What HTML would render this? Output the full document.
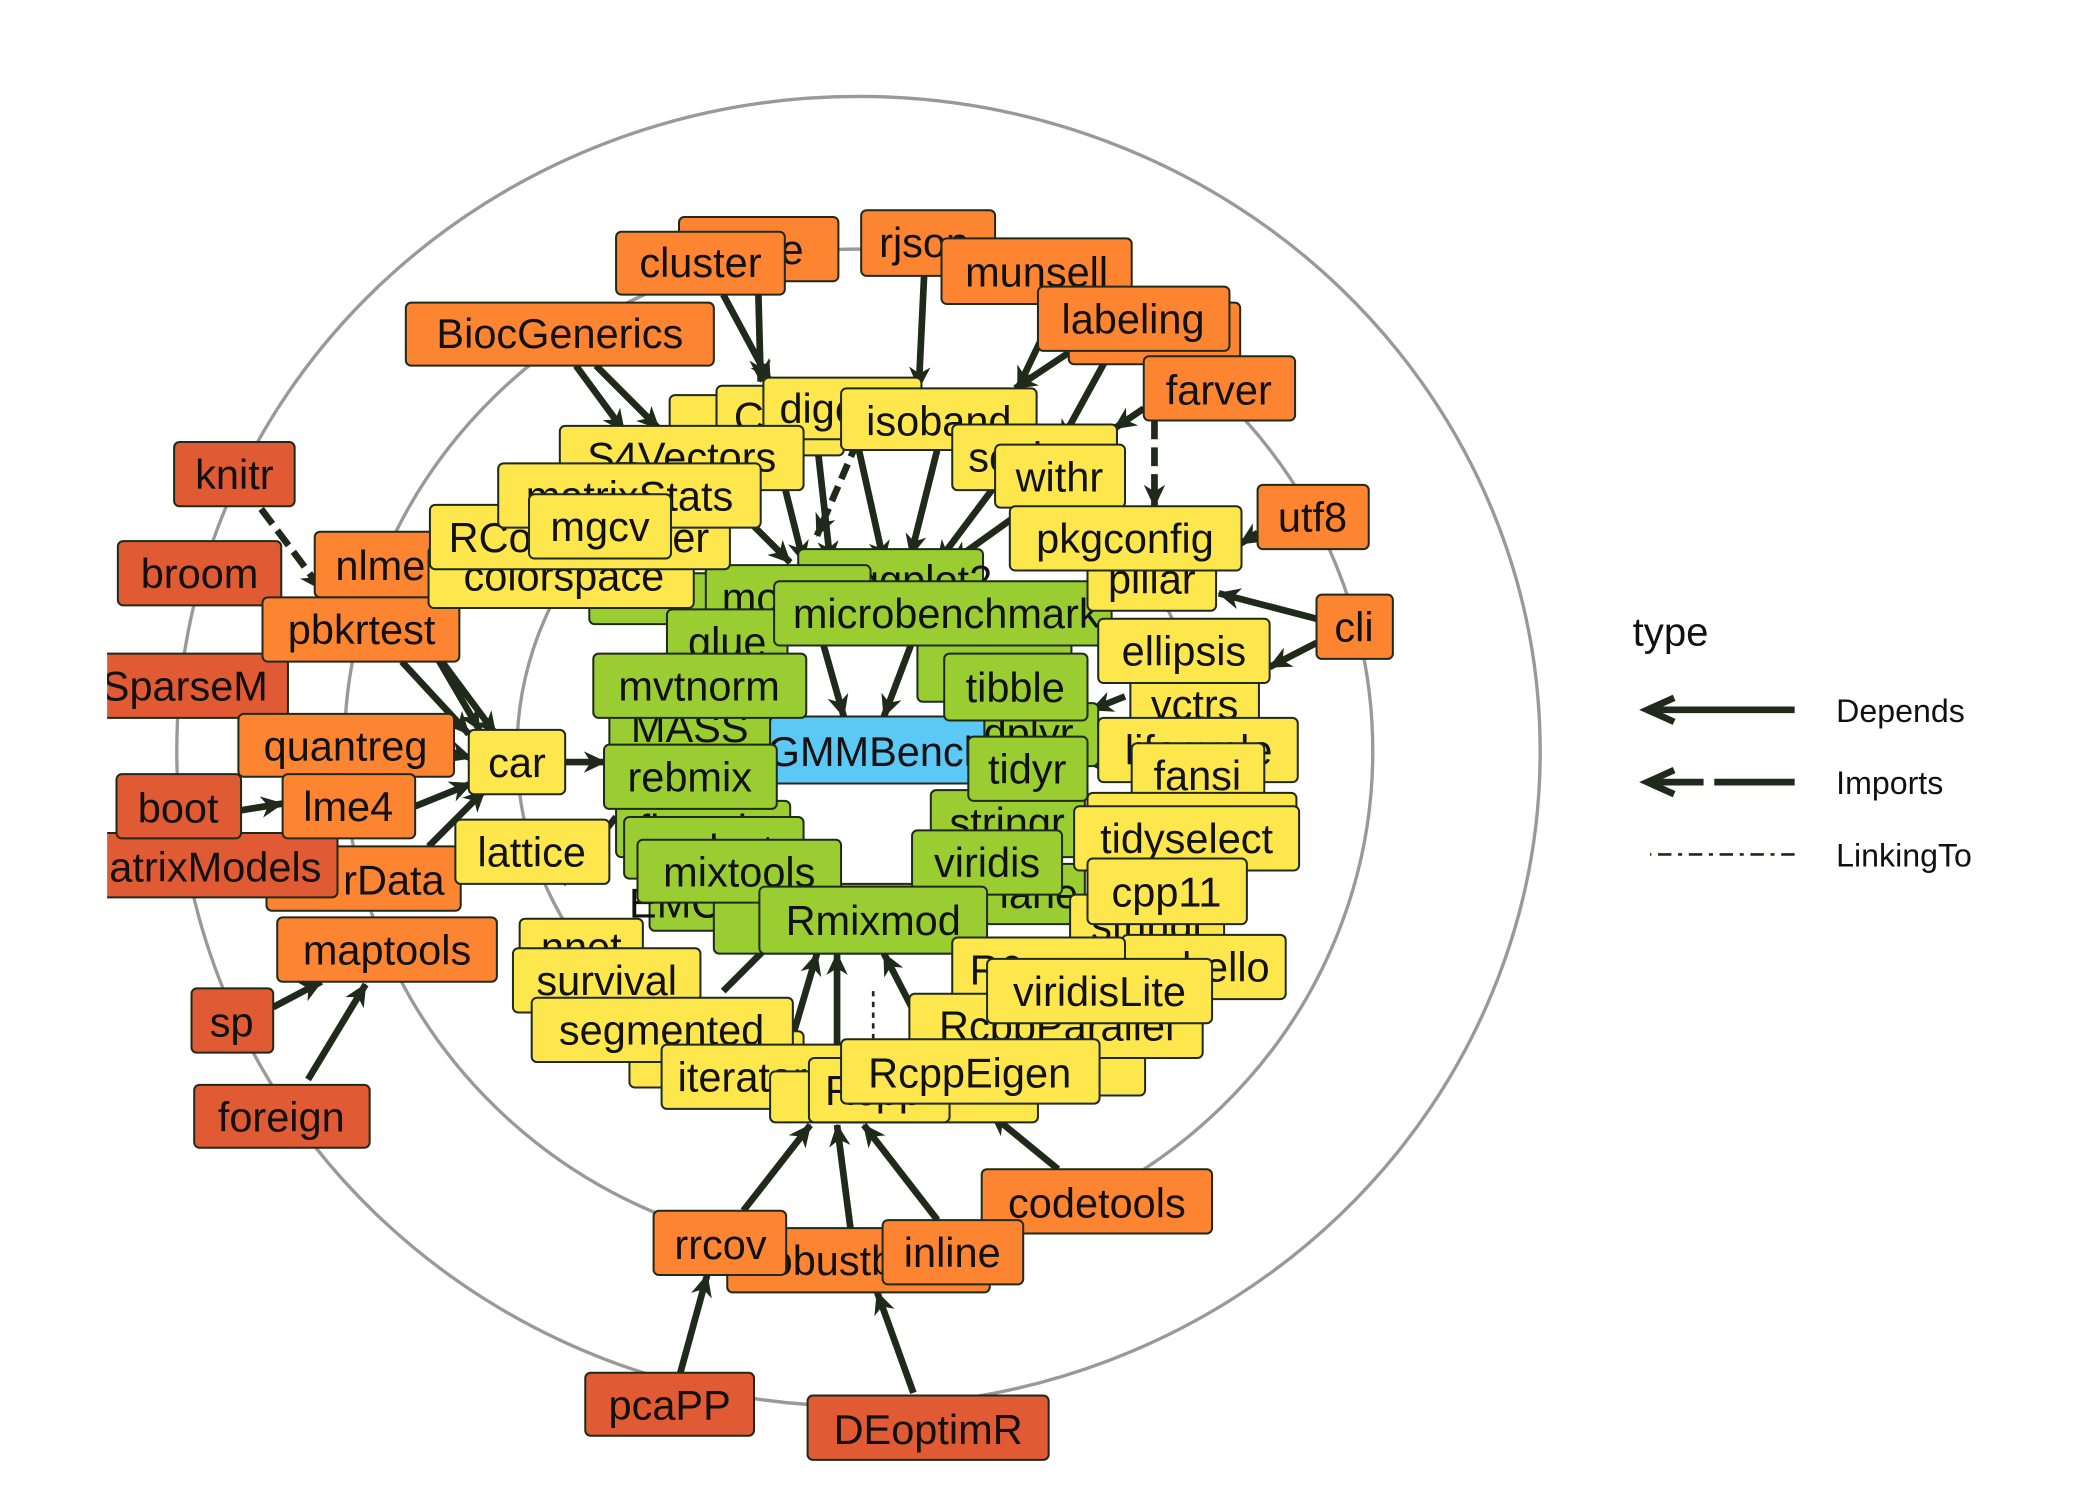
<!DOCTYPE html>
<html><head><meta charset="utf-8"><style>
html,body{margin:0;padding:0;background:#fff;}
svg{display:block}
text{font-family:"Liberation Sans",sans-serif;}
</style></head><body>
<svg width="2100" height="1500" viewBox="0 0 1568 1120" preserveAspectRatio="none" xmlns="http://www.w3.org/2000/svg">
<defs>
<marker id="a" markerUnits="userSpaceOnUse" markerWidth="18" markerHeight="16" refX="16" refY="8" orient="auto">
<path d="M0,0 L17,8 L0,16 L5,8 Z" fill="#1f2a1a"/></marker>
<clipPath id="c"><rect x="80" y="0" width="1469" height="1106"/></clipPath>
</defs>
<rect width="1568" height="1120" fill="#fff"/>
<g clip-path="url(#c)">
<g fill="none" stroke="#999" stroke-width="2.5">
<ellipse cx="641" cy="561" rx="509" ry="489"/>
<ellipse cx="641" cy="561" rx="384" ry="375"/>
<ellipse cx="641" cy="561" rx="255" ry="250"/>
</g>
<g stroke="#1f2a1a" stroke-width="5" fill="none" marker-end="url(#a)">
<line x1="540" y1="220" x2="575" y2="285"/>
<line x1="566" y1="210" x2="568" y2="285"/>
<line x1="690" y1="206" x2="686" y2="290"/>
<line x1="790" y1="227" x2="760" y2="290"/>
<line x1="800" y1="262" x2="758" y2="290"/>
<line x1="825" y1="270" x2="792" y2="330"/>
<line x1="854" y1="305" x2="832" y2="320"/>
<line x1="862" y1="314" x2="862" y2="378" stroke-dasharray="14,6"/>
<line x1="430" y1="273" x2="466" y2="322"/>
<line x1="445" y1="273" x2="492" y2="320"/>
<line x1="195" y1="380" x2="240" y2="440" stroke-dasharray="14,6"/>
<line x1="300" y1="446" x2="358" y2="545"/>
<line x1="300" y1="494" x2="350" y2="548"/>
<line x1="330" y1="494" x2="370" y2="548"/>
<line x1="339" y1="562" x2="352" y2="566"/>
<line x1="310" y1="602" x2="352" y2="585"/>
<line x1="180" y1="605" x2="211" y2="600"/>
<line x1="320" y1="632" x2="362" y2="590"/>
<line x1="204" y1="752" x2="240" y2="733"/>
<line x1="230" y1="806" x2="273" y2="735"/>
<line x1="939" y1="398" x2="926" y2="406"/>
<line x1="983" y1="462" x2="910" y2="443"/>
<line x1="983" y1="480" x2="948" y2="498"/>
<line x1="790" y1="873" x2="740" y2="832"/>
<line x1="555" y1="904" x2="605" y2="840"/>
<line x1="635" y1="917" x2="625" y2="840"/>
<line x1="700" y1="911" x2="645" y2="840"/>
<line x1="508" y1="1025" x2="528" y2="952"/>
<line x1="682" y1="1040" x2="655" y2="965"/>
<line x1="422" y1="569" x2="452" y2="569"/>
<line x1="540" y1="370" x2="590" y2="420"/>
<line x1="580" y1="340" x2="600" y2="420"/>
<line x1="610" y1="330" x2="620" y2="420"/>
<line x1="640" y1="330" x2="660" y2="420"/>
<line x1="700" y1="335" x2="680" y2="415"/>
<line x1="760" y1="340" x2="700" y2="420"/>
<line x1="640" y1="330" x2="610" y2="400" stroke-dasharray="12,6"/>
<line x1="780" y1="370" x2="710" y2="420"/>
<line x1="615" y1="482" x2="630" y2="535"/>
<line x1="680" y1="482" x2="660" y2="535"/>
<line x1="540" y1="740" x2="590" y2="690"/>
<line x1="590" y1="780" x2="610" y2="712"/>
<line x1="625" y1="790" x2="625" y2="712"/>
<line x1="690" y1="770" x2="660" y2="712"/>
<line x1="460" y1="610" x2="420" y2="660"/>
<line x1="820" y1="570" x2="812" y2="570"/>
<line x1="840" y1="520" x2="815" y2="530"/>
<line x1="800" y1="630" x2="780" y2="620"/>
<line x1="652" y1="740" x2="652" y2="790" stroke-width="2" stroke-dasharray="4,4" marker-end="none"/>
</g>
<g stroke="#1f2a1a" stroke-width="1.5">
<rect x="507" y="162" width="119" height="48" rx="4" fill="#fd8532"/>
<text x="600" y="197" font-size="31" text-anchor="end" stroke="none" fill="#111">pe</text>
<rect x="460" y="173" width="126" height="47" rx="4" fill="#fd8532"/>
<text x="523" y="207" font-size="31" text-anchor="middle" stroke="none" fill="#111">cluster</text>
<rect x="643" y="157" width="100" height="49" rx="4" fill="#fd8532"/>
<text x="690" y="192" font-size="31" text-anchor="middle" stroke="none" fill="#111">rjson</text>
<rect x="703" y="178" width="142" height="49" rx="4" fill="#fd8532"/>
<text x="774" y="214" font-size="31" text-anchor="middle" stroke="none" fill="#111">munsell</text>
<rect x="798" y="226" width="128" height="46" rx="4" fill="#fd8532"/>
<rect x="775" y="214" width="143" height="48" rx="4" fill="#fd8532"/>
<text x="846" y="249" font-size="31" text-anchor="middle" stroke="none" fill="#111">labeling</text>
<rect x="303" y="226" width="230" height="47" rx="4" fill="#fd8532"/>
<text x="418" y="260" font-size="31" text-anchor="middle" stroke="none" fill="#111">BiocGenerics</text>
<rect x="854" y="266" width="113" height="48" rx="4" fill="#fd8532"/>
<text x="910" y="302" font-size="31" text-anchor="middle" stroke="none" fill="#111">farver</text>
<rect x="130" y="330" width="90" height="48" rx="4" fill="#e05a33"/>
<text x="175" y="365" font-size="31" text-anchor="middle" stroke="none" fill="#111">knitr</text>
<rect x="939" y="362" width="83" height="48" rx="4" fill="#fd8532"/>
<text x="980" y="397" font-size="31" text-anchor="middle" stroke="none" fill="#111">utf8</text>
<rect x="88" y="404" width="122" height="48" rx="4" fill="#e05a33"/>
<text x="149" y="439" font-size="31" text-anchor="middle" stroke="none" fill="#111">broom</text>
<rect x="983" y="444" width="57" height="48" rx="4" fill="#fd8532"/>
<text x="1011" y="479" font-size="31" text-anchor="middle" stroke="none" fill="#111">cli</text>
<rect x="60" y="488" width="155" height="48" rx="4" fill="#e05a33"/>
<text x="138" y="523" font-size="31" text-anchor="middle" stroke="none" fill="#111">SparseM</text>
<rect x="235" y="397" width="98" height="49" rx="4" fill="#fd8532"/>
<text x="284" y="433" font-size="31" text-anchor="middle" stroke="none" fill="#111">nlme</text>
<rect x="196" y="446" width="147" height="48" rx="4" fill="#fd8532"/>
<text x="270" y="481" font-size="31" text-anchor="middle" stroke="none" fill="#111">pbkrtest</text>
<rect x="178" y="533" width="161" height="47" rx="4" fill="#fd8532"/>
<text x="258" y="568" font-size="31" text-anchor="middle" stroke="none" fill="#111">quantreg</text>
<rect x="199" y="632" width="145" height="48" rx="4" fill="#fd8532"/>
<text x="332" y="668" font-size="31" text-anchor="end" stroke="none" fill="#111">rData</text>
<rect x="60" y="622" width="192" height="48" rx="4" fill="#e05a33"/>
<text x="240" y="658" font-size="31" text-anchor="end" stroke="none" fill="#111">atrixModels</text>
<rect x="87" y="578" width="93" height="48" rx="4" fill="#e05a33"/>
<text x="133" y="614" font-size="31" text-anchor="middle" stroke="none" fill="#111">boot</text>
<rect x="211" y="578" width="99" height="48" rx="4" fill="#fd8532"/>
<text x="260" y="613" font-size="31" text-anchor="middle" stroke="none" fill="#111">lme4</text>
<rect x="207" y="685" width="164" height="48" rx="4" fill="#fd8532"/>
<text x="289" y="720" font-size="31" text-anchor="middle" stroke="none" fill="#111">maptools</text>
<rect x="143" y="738" width="61" height="48" rx="4" fill="#e05a33"/>
<text x="173" y="774" font-size="31" text-anchor="middle" stroke="none" fill="#111">sp</text>
<rect x="145" y="810" width="131" height="47" rx="4" fill="#e05a33"/>
<text x="210" y="845" font-size="31" text-anchor="middle" stroke="none" fill="#111">foreign</text>
<rect x="733" y="873" width="172" height="48" rx="4" fill="#fd8532"/>
<text x="819" y="909" font-size="31" text-anchor="middle" stroke="none" fill="#111">codetools</text>
<rect x="543" y="917" width="196" height="48" rx="4" fill="#fd8532"/>
<text x="641" y="952" font-size="31" text-anchor="middle" stroke="none" fill="#111">robustbase</text>
<rect x="488" y="904" width="99" height="48" rx="4" fill="#fd8532"/>
<text x="538" y="940" font-size="31" text-anchor="middle" stroke="none" fill="#111">rrcov</text>
<rect x="659" y="911" width="105" height="48" rx="4" fill="#fd8532"/>
<text x="711" y="946" font-size="31" text-anchor="middle" stroke="none" fill="#111">inline</text>
<rect x="437" y="1025" width="126" height="47" rx="4" fill="#e05a33"/>
<text x="500" y="1060" font-size="31" text-anchor="middle" stroke="none" fill="#111">pcaPP</text>
<rect x="603" y="1042" width="180" height="48" rx="4" fill="#e05a33"/>
<text x="693" y="1078" font-size="31" text-anchor="middle" stroke="none" fill="#111">DEoptimR</text>

<rect x="440" y="428" width="130" height="38" rx="4" fill="#9acd32"/>
<rect x="596" y="410" width="138" height="46" rx="4" fill="#9acd32"/>
<text x="690" y="444" font-size="31" text-anchor="middle" stroke="none" fill="#111">ggplot2</text>
<rect x="527" y="422" width="123" height="48" rx="4" fill="#9acd32"/>
<text x="588" y="457" font-size="31" text-anchor="middle" stroke="none" fill="#111">mosaic</text>
<rect x="498" y="455" width="90" height="47" rx="4" fill="#9acd32"/>
<text x="543" y="490" font-size="31" text-anchor="middle" stroke="none" fill="#111">glue</text>
<rect x="685" y="476" width="115" height="48" rx="4" fill="#9acd32"/>
<text x="742" y="511" font-size="31" text-anchor="middle" stroke="none" fill="#111">purrr</text>
<rect x="455" y="522" width="120" height="40" rx="4" fill="#9acd32"/>
<text x="515" y="554" font-size="31" text-anchor="middle" stroke="none" fill="#111">MASS</text>
<rect x="717" y="525" width="103" height="47" rx="4" fill="#9acd32"/>
<text x="768" y="558" font-size="31" text-anchor="middle" stroke="none" fill="#111">dplyr</text>
<rect x="460" y="598" width="130" height="42" rx="4" fill="#9acd32"/>
<text x="525" y="630" font-size="31" text-anchor="middle" stroke="none" fill="#111">flexmix</text>
<rect x="466" y="610" width="134" height="46" rx="4" fill="#9acd32"/>
<text x="533" y="645" font-size="31" text-anchor="middle" stroke="none" fill="#111">mclust</text>
<rect x="695" y="590" width="115" height="50" rx="4" fill="#9acd32"/>
<text x="752" y="625" font-size="31" text-anchor="middle" stroke="none" fill="#111">stringr</text>
<rect x="485" y="650" width="115" height="45" rx="4" fill="#9acd32"/>
<text x="542" y="685" font-size="31" text-anchor="middle" stroke="none" fill="#111">EMCluster</text>
<rect x="533" y="660" width="180" height="52" rx="4" fill="#9acd32"/>
<rect x="735" y="645" width="75" height="45" rx="4" fill="#9acd32"/>
<text x="805" y="678" font-size="31" text-anchor="end" stroke="none" fill="#111">lane</text>
<rect x="575" y="535" width="160" height="50" rx="4" fill="#5bc8f5"/>
<text x="655" y="572" font-size="31" text-anchor="middle" stroke="none" fill="#111">GMMBench</text>
<rect x="578" y="434" width="252" height="48" rx="4" fill="#9acd32"/>
<text x="592" y="469" font-size="31" stroke="none" fill="#111">microbenchmark</text>
<rect x="443" y="488" width="159" height="48" rx="4" fill="#9acd32"/>
<text x="522" y="523" font-size="31" text-anchor="middle" stroke="none" fill="#111">mvtnorm</text>
<rect x="705" y="488" width="107" height="50" rx="4" fill="#9acd32"/>
<text x="758" y="524" font-size="31" text-anchor="middle" stroke="none" fill="#111">tibble</text>
<rect x="723" y="550" width="89" height="48" rx="4" fill="#9acd32"/>
<text x="767" y="585" font-size="31" text-anchor="middle" stroke="none" fill="#111">tidyr</text>
<rect x="451" y="556" width="129" height="48" rx="4" fill="#9acd32"/>
<text x="515" y="591" font-size="31" text-anchor="middle" stroke="none" fill="#111">rebmix</text>
<rect x="476" y="627" width="152" height="47" rx="4" fill="#9acd32"/>
<text x="552" y="662" font-size="31" text-anchor="middle" stroke="none" fill="#111">mixtools</text>
<rect x="681" y="620" width="112" height="48" rx="4" fill="#9acd32"/>
<text x="737" y="655" font-size="31" text-anchor="middle" stroke="none" fill="#111">viridis</text>
<rect x="567" y="662" width="170" height="50" rx="4" fill="#9acd32"/>
<text x="652" y="698" font-size="31" text-anchor="middle" stroke="none" fill="#111">Rmixmod</text>

<rect x="500" y="295" width="80" height="45" rx="4" fill="#fde74c"/>
<rect x="535" y="288" width="95" height="52" rx="4" fill="#fde74c"/>
<text x="548" y="322" font-size="31" stroke="none" fill="#111">C</text>
<rect x="570" y="282" width="118" height="46" rx="4" fill="#fde74c"/>
<text x="582" y="316" font-size="31" stroke="none" fill="#111">digest</text>
<rect x="418" y="318" width="182" height="48" rx="4" fill="#fde74c"/>
<text x="509" y="352" font-size="31" text-anchor="middle" stroke="none" fill="#111">S4Vectors</text>
<rect x="628" y="290" width="146" height="46" rx="4" fill="#fde74c"/>
<text x="701" y="325" font-size="31" text-anchor="middle" stroke="none" fill="#111">isoband</text>
<rect x="711" y="317" width="123" height="49" rx="4" fill="#fde74c"/>
<text x="723" y="352" font-size="31" stroke="none" fill="#111">scales</text>
<rect x="743" y="332" width="97" height="47" rx="4" fill="#fde74c"/>
<text x="791" y="367" font-size="31" text-anchor="middle" stroke="none" fill="#111">withr</text>
<rect x="320" y="408" width="198" height="46" rx="4" fill="#fde74c"/>
<text x="421" y="441" font-size="31" text-anchor="middle" stroke="none" fill="#111">colorspace</text>
<rect x="321" y="377" width="224" height="48" rx="4" fill="#fde74c"/>
<text x="335" y="412" font-size="31" stroke="none" fill="#111">RColorBrewer</text>
<rect x="372" y="346" width="196" height="48" rx="4" fill="#fde74c"/>
<text x="470" y="381" font-size="31" text-anchor="middle" stroke="none" fill="#111">matrixStats</text>
<rect x="395" y="369" width="106" height="48" rx="4" fill="#fde74c"/>
<text x="448" y="404" font-size="31" text-anchor="middle" stroke="none" fill="#111">mgcv</text>
<rect x="812" y="408" width="96" height="48" rx="4" fill="#fde74c"/>
<text x="860" y="443" font-size="31" text-anchor="middle" stroke="none" fill="#111">pillar</text>
<rect x="754" y="378" width="173" height="48" rx="4" fill="#fde74c"/>
<text x="840" y="413" font-size="31" text-anchor="middle" stroke="none" fill="#111">pkgconfig</text>
<rect x="844" y="503" width="96" height="46" rx="4" fill="#fde74c"/>
<text x="892" y="537" font-size="31" text-anchor="middle" stroke="none" fill="#111">vctrs</text>
<rect x="820" y="462" width="128" height="48" rx="4" fill="#fde74c"/>
<text x="884" y="497" font-size="31" text-anchor="middle" stroke="none" fill="#111">ellipsis</text>
<rect x="820" y="536" width="149" height="48" rx="4" fill="#fde74c"/>
<text x="895" y="571" font-size="31" text-anchor="middle" stroke="none" fill="#111">lifecycle</text>
<rect x="845" y="555" width="99" height="48" rx="4" fill="#fde74c"/>
<text x="894" y="590" font-size="31" text-anchor="middle" stroke="none" fill="#111">fansi</text>
<rect x="350" y="545" width="72" height="48" rx="4" fill="#fde74c"/>
<text x="386" y="580" font-size="31" text-anchor="middle" stroke="none" fill="#111">car</text>
<rect x="340" y="612" width="115" height="48" rx="4" fill="#fde74c"/>
<text x="397" y="647" font-size="31" text-anchor="middle" stroke="none" fill="#111">lattice</text>
<rect x="812" y="592" width="156" height="40" rx="4" fill="#fde74c"/>
<rect x="802" y="602" width="168" height="48" rx="4" fill="#fde74c"/>
<text x="886" y="637" font-size="31" text-anchor="middle" stroke="none" fill="#111">tidyselect</text>
<rect x="799" y="668" width="115" height="48" rx="4" fill="#fde74c"/>
<text x="856" y="702" font-size="31" text-anchor="middle" stroke="none" fill="#111">stringi</text>
<rect x="812" y="641" width="119" height="49" rx="4" fill="#fde74c"/>
<text x="871" y="677" font-size="31" text-anchor="middle" stroke="none" fill="#111">cpp11</text>
<rect x="838" y="698" width="122" height="48" rx="4" fill="#fde74c"/>
<text x="948" y="733" font-size="31" text-anchor="end" stroke="none" fill="#111">hello</text>
<rect x="388" y="686" width="92" height="44" rx="4" fill="#fde74c"/>
<text x="434" y="718" font-size="31" text-anchor="middle" stroke="none" fill="#111">nnet</text>
<rect x="383" y="708" width="140" height="48" rx="4" fill="#fde74c"/>
<text x="453" y="743" font-size="31" text-anchor="middle" stroke="none" fill="#111">survival</text>
<rect x="711" y="700" width="129" height="48" rx="4" fill="#fde74c"/>
<text x="724" y="735" font-size="31" stroke="none" fill="#111">R6</text>
<rect x="700" y="770" width="155" height="48" rx="4" fill="#fde74c"/>
<rect x="679" y="742" width="219" height="48" rx="4" fill="#fde74c"/>
<text x="789" y="777" font-size="31" text-anchor="middle" stroke="none" fill="#111">RcppParallel</text>
<rect x="737" y="716" width="168" height="48" rx="4" fill="#fde74c"/>
<text x="821" y="751" font-size="31" text-anchor="middle" stroke="none" fill="#111">viridisLite</text>
<rect x="470" y="770" width="130" height="42" rx="4" fill="#fde74c"/>
<rect x="397" y="745" width="195" height="48" rx="4" fill="#fde74c"/>
<text x="494" y="780" font-size="31" text-anchor="middle" stroke="none" fill="#111">segmented</text>
<rect x="494" y="780" width="146" height="48" rx="4" fill="#fde74c"/>
<text x="506" y="815" font-size="31" stroke="none" fill="#111">iterators</text>
<rect x="575" y="800" width="200" height="38" rx="4" fill="#fde74c"/>
<rect x="604" y="790" width="105" height="48" rx="4" fill="#fde74c"/>
<text x="616" y="825" font-size="31" stroke="none" fill="#111">Rcpp</text>
<rect x="628" y="776" width="193" height="48" rx="4" fill="#fde74c"/>
<text x="724" y="812" font-size="31" text-anchor="middle" stroke="none" fill="#111">RcppEigen</text>
</g>
</g>
<text x="1219" y="482" font-size="30" fill="#111">type</text>
<g stroke="#1f2a1a" stroke-width="5" fill="none">
<line x1="1340" y1="530" x2="1232" y2="530"/>
<path d="M1250,521 L1230,530 L1250,539"/>
<line x1="1340" y1="584" x2="1232" y2="584" stroke-dasharray="60,8,20,0"/>
<path d="M1250,575 L1230,584 L1250,593"/>
<line x1="1340" y1="638" x2="1232" y2="638" stroke-width="2" stroke-dasharray="10,5,3,5"/>
</g>
<text x="1371" y="539" font-size="24" fill="#111">Depends</text>
<text x="1371" y="593" font-size="24" fill="#111">Imports</text>
<text x="1371" y="647" font-size="24" fill="#111">LinkingTo</text>
</svg>
</body></html>
